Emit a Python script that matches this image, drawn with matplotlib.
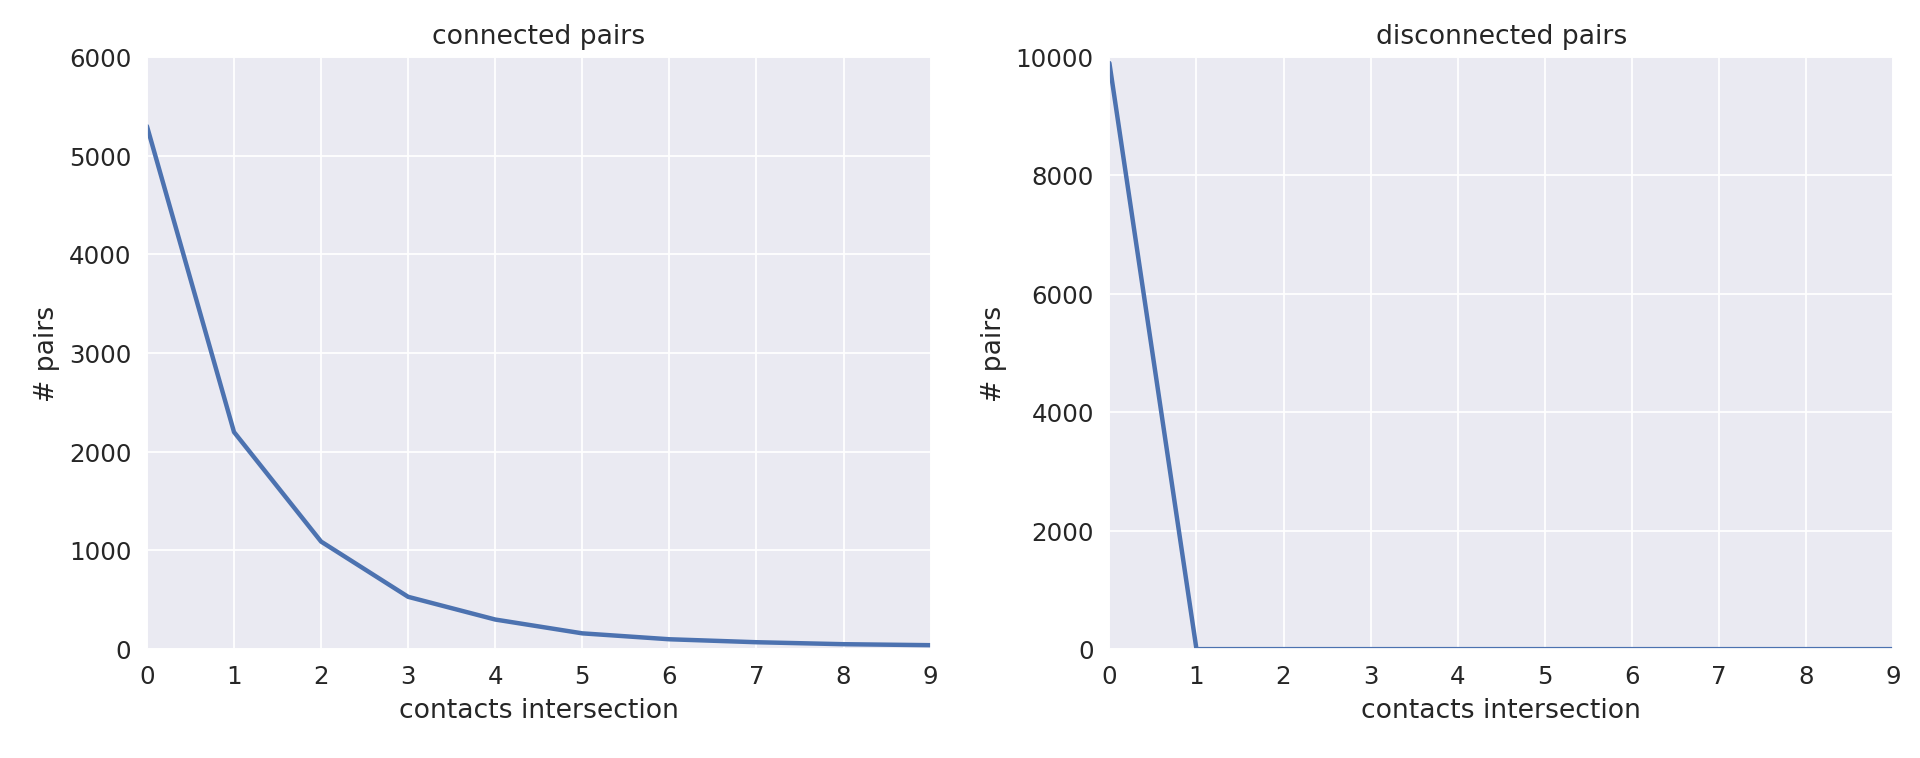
import matplotlib
matplotlib.use("Agg")
import matplotlib.pyplot as plt
import seaborn as sns

sns.set_style("darkgrid")
plt.rcParams['font.family'] = ['DejaVu Sans']

intersection = list(range(10))
connected = [5300, 2200, 1090, 530, 300, 160, 100, 70, 50, 40]
disconnected = [9900, 0, 0, 0, 0, 0, 0, 0, 0, 0]

fig, axes = plt.subplots(1, 2, figsize=(12, 4.74), dpi=160)
color = "#4c72b0"

for ax, vals, title, ymax in [(axes[0], connected, "connected pairs", 6000),
                              (axes[1], disconnected, "disconnected pairs", 10000)]:
    ax.plot(intersection, vals, color=color, linewidth=2)
    ax.set_xlim(0, 9)
    ax.set_ylim(0, ymax)
    ax.set_xticks(intersection)
    ax.set_title(title, fontsize=12)
    ax.set_xlabel("contacts intersection", fontsize=12)
    ax.set_ylabel("# pairs", fontsize=12)
    ax.tick_params(labelsize=11)

W, H = 1568, 620
axes[0].set_position([120 / W, 1 - 531 / H, 640 / W, 484 / H])
axes[1].set_position([906 / W, 1 - 531 / H, 640 / W, 484 / H])

fig.savefig("out.png")
